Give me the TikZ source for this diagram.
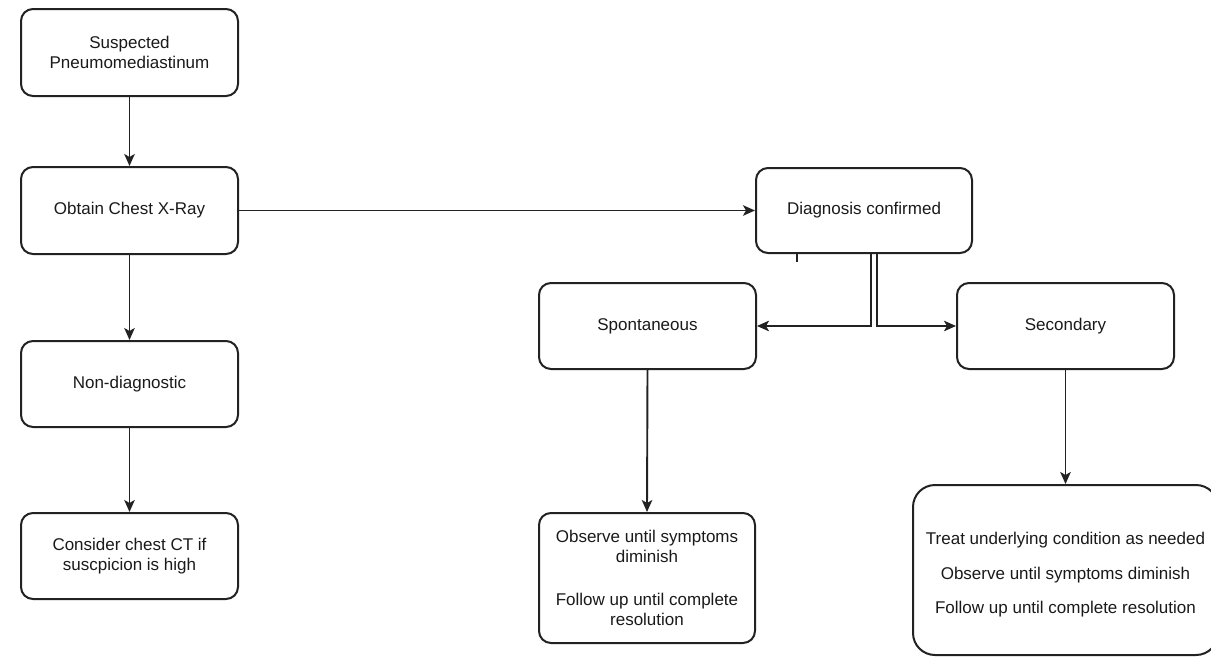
\documentclass[tikz,border=0pt]{standalone}
\usepackage{fontspec}
\setmainfont{Liberation Sans}
\usetikzlibrary{arrows.meta}
\definecolor{ln}{HTML}{222222}
\definecolor{tx}{HTML}{1A1A1A}
\tikzset{
  box/.style={draw=ln, line width=2pt, rounded corners=12pt, rectangle,
    minimum width=217pt, minimum height=86pt, inner sep=0pt, align=center,
    text=tx, font=\fontsize{17}{20}\selectfont},
  txt/.style={inner sep=0pt, align=center, text=tx, font=\fontsize{17}{20}\selectfont},
  arr/.style={draw=ln, line width=1.9pt, -{Stealth[length=12pt,width=10.5pt,inset=3pt]}},
  plain/.style={draw=ln, line width=1.9pt}
}
\begin{document}
\begin{tikzpicture}[x=1pt,y=-1pt]
\clip (0,0) rectangle (1211,657);
\fill[white] (0,0) rectangle (1211,657);
\node[box, minimum height=87pt] (s1) at (129.5,52.5) {Suspected\\Pneumomediastinum};
\node[box, minimum height=87pt] (xray) at (129.5,210.5) {Obtain Chest X-Ray};
\node[box] (nond) at (129.5,384) {Non-diagnostic};
\node[box] (ct) at (129.5,556) {Consider chest CT if\\suscpicion is high};
\node[box, minimum width=216pt, minimum height=85pt] (diag) at (864,210.5) {Diagnosis confirmed};
\node[box] (spon) at (647.5,326) {Spontaneous};
\node[box] (sec) at (1065.5,326) {Secondary};
\node[box, minimum width=216pt, minimum height=130pt] (obs) at (647,578)
  {Observe until symptoms\\diminish\\[23pt]Follow up until complete\\resolution};
\node[box, minimum width=305pt, minimum height=170pt, rounded corners=22pt] (treat) at (1065.5,570) {};
\node[txt] (treattxt) at ([yshift=-5pt]treat.center)
  {Treat underlying condition as needed\\[14.5pt]Observe until symptoms diminish\\[14.5pt]Follow up until complete resolution};
\draw[arr] (s1.south) -- (xray.north);
\draw[arr] (xray.south) -- (nond.north);
\draw[arr] (nond.south) -- (ct.north);
\draw[arr] (xray.east) -- (diag.west);
\draw[arr] ([xshift=7pt]diag.south) |- (spon.east);
\draw[arr] ([xshift=13pt]diag.south) |- (sec.west);
\draw[plain] ([xshift=-67pt]diag.south) -- ++(0,8);
\draw[arr] (spon.south) -- (obs.north);
\draw[arr] (sec.south) -- (treat.north);
\end{tikzpicture}
\end{document}
